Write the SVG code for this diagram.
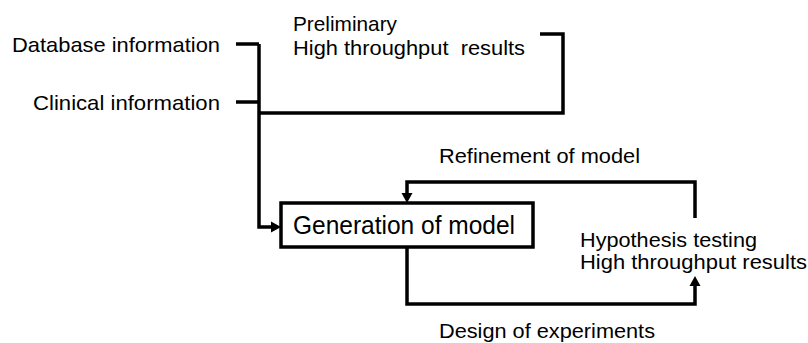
<svg xmlns="http://www.w3.org/2000/svg" width="808" height="343" viewBox="0 0 808 343">
  <defs>
    <style>
      .t { font-family: "Liberation Sans", Arial, Helvetica, sans-serif; font-size: 21px; fill: #000; }
      .big { font-size: 25px; }
      .ln { fill: none; stroke: #000; stroke-width: 3.5; stroke-linejoin: miter; stroke-linecap: butt; }
      .box { fill: #fff; stroke: #000; stroke-width: 3.5; }
    </style>
    <marker id="ah" markerUnits="userSpaceOnUse" markerWidth="12" markerHeight="12" viewBox="0 -6 12 12" refX="0" refY="0" orient="auto">
      <path d="M0,-5.5 L10,0 L0,5.5 z" fill="#000"/>
    </marker>
  </defs>
  <rect x="0" y="0" width="808" height="343" fill="#fff"/>

  <g id="connectors">
    <path class="ln" d="M236,44 H259"/>
    <path class="ln" d="M236,102 H259"/>
    <path class="ln" d="M259,44 V227 H271" marker-end="url(#ah)"/>
    <path class="ln" d="M540,34 H563 V113 H259"/>
    <path class="ln" d="M695,218 V182 H407 V193" marker-end="url(#ah)"/>
    <path class="ln" d="M407,247 V304 H695 V286" marker-end="url(#ah)"/>
  </g>

  <g id="database">
    <text class="t" x="12" y="52" textLength="208" lengthAdjust="spacingAndGlyphs">Database information</text>
  </g>
  <g id="clinical">
    <text class="t" x="33" y="110" textLength="187" lengthAdjust="spacingAndGlyphs">Clinical information</text>
  </g>
  <g id="preliminary">
    <text class="t" x="293" y="31" textLength="104" lengthAdjust="spacingAndGlyphs">Preliminary</text>
    <text class="t" x="293" y="55" textLength="232" lengthAdjust="spacingAndGlyphs" xml:space="preserve">High throughput  results</text>
  </g>
  <g id="model">
    <rect class="box" x="281" y="203" width="252" height="44"/>
    <text class="t big" x="293" y="234" textLength="222" lengthAdjust="spacingAndGlyphs">Generation of model</text>
  </g>
  <g id="hypothesis">
    <text class="t" x="580" y="247" textLength="177" lengthAdjust="spacingAndGlyphs">Hypothesis testing</text>
    <text class="t" x="580" y="269" textLength="227" lengthAdjust="spacingAndGlyphs">High throughput results</text>
  </g>
  <g id="refinement-label">
    <text class="t" x="439" y="163" textLength="201" lengthAdjust="spacingAndGlyphs">Refinement of model</text>
  </g>
  <g id="design-label">
    <text class="t" x="439" y="338" textLength="216" lengthAdjust="spacingAndGlyphs">Design of experiments</text>
  </g>
</svg>
